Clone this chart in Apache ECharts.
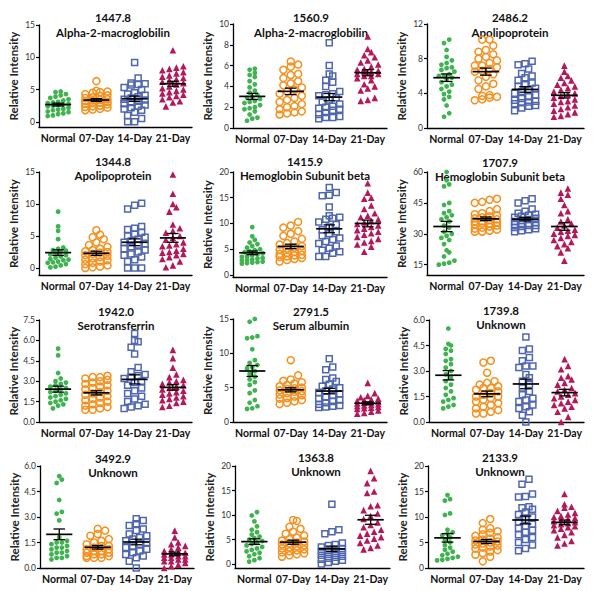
<!DOCTYPE html>
<html><head><meta charset="utf-8">
<script src="https://cdn.jsdelivr.net/npm/echarts@6/dist/echarts.min.js"></script>
<style>html,body{margin:0;padding:0;background:#fff}#c{width:600px;height:591px}</style>
</head><body><div id="c"></div>
<script>
// ---------- DATA ----------
const categories = ['Normal', '07-Day', '14-Day', '21-Day'];
const panelIds = ['1447.8','1560.9','2486.2','1344.8','1415.9','1707.9','1942.0','2791.5','1739.8','3492.9','1363.8','2133.9'];
const panelNames = ['Alpha-2-macroglobilin','Alpha-2-macroglobilin','Apolipoprotein','Apolipoprotein','Hemoglobin Subunit beta','Hemoglobin Subunit beta','Serotransferrin','Serum albumin','Unknown','Unknown','Unknown','Unknown'];

const p1447 = [
  [4.7,4.6,4.3,4.1,3.9,3.7,3.5,3.3,3.1,3.0,2.9,2.8,2.7,2.6,2.5,2.4,2.2,2.0,1.9,1.8,1.6,1.5,1.3,1.2,1.0,0.9],
  [6.3,4.8,4.7,4.6,4.5,4.3,4.1,4.0,3.8,3.7,3.5,3.4,3.3,3.2,3.1,3.0,2.9,2.8,2.7,2.5,2.4,2.3,2.2,2.0,1.9,1.8],
  [9.2,6.8,6.0,5.9,5.8,5.7,5.3,5.0,4.5,4.3,4.1,3.9,3.7,3.5,3.4,3.2,3.0,2.8,2.6,2.4,2.2,2.0,1.8,1.5,1.0,0.5,0.0,0.0],
  [11.1,8.6,8.4,8.2,8.0,7.7,7.5,7.2,7.0,6.8,6.6,6.4,6.2,6.0,5.8,5.5,5.2,5.0,4.8,4.6,4.4,4.2,4.0,3.8,3.5,3.2,3.0,2.4]
];
const p1560 = [
  [5.7,5.6,5.3,5.1,4.9,4.5,4.2,3.9,3.6,3.4,3.2,3.0,2.9,2.8,2.6,2.5,2.4,2.2,2.0,1.9,1.8,1.6,1.3,1.0,0.9,0.7],
  [6.4,6.1,5.9,5.6,5.2,5.1,4.8,4.5,4.3,4.1,3.9,3.7,3.5,3.3,3.1,2.9,2.7,2.5,2.3,2.1,2.0,1.8,1.6,1.5,1.4,1.3],
  [8.2,6.0,5.2,5.0,4.6,4.4,4.0,3.5,3.3,3.2,3.1,2.9,2.7,2.5,2.3,2.1,2.0,1.9,1.8,1.7,1.5,1.3,1.1,1.0,1.0,0.9],
  [8.8,7.6,7.3,7.0,6.8,6.5,6.3,6.1,5.9,5.7,5.6,5.5,5.4,5.4,5.2,5.2,5.0,5.0,4.8,4.6,4.2,4.0,3.8,3.6,2.9,2.7,2.6]
];
const p2486 = [
  [10.2,9.8,9.0,8.2,7.8,7.5,7.3,7.0,6.9,6.7,6.5,6.2,6.0,6.0,5.8,5.6,5.3,5.0,4.8,4.5,4.2,3.9,3.6,3.3,2.6,1.7,1.3],
  [10.2,10.2,9.5,9.0,8.8,8.5,8.2,8.0,7.8,7.5,7.2,7.2,7.0,6.8,6.6,6.5,6.2,5.9,5.5,5.1,4.8,4.5,3.8,3.7,3.6,3.5,3.3,3.2],
  [7.7,7.4,7.3,6.8,6.3,6.0,5.8,5.5,5.2,5.0,4.8,4.6,4.4,4.2,4.0,3.8,3.6,3.4,3.2,3.1,3.0,2.9,2.8,2.6,2.5,2.3,2.0],
  [7.2,6.5,6.0,5.8,5.5,5.2,5.0,4.8,4.6,4.4,4.2,4.0,3.9,3.7,3.5,3.3,3.1,3.0,2.8,2.6,2.4,2.2,2.0,1.8,1.6,1.4,1.3]
];
const p1344 = [
  [8.8,6.5,5.8,4.5,3.2,3.0,2.8,2.7,2.5,2.3,2.1,2.0,1.8,1.6,1.4,1.3,1.2,1.0,0.9,0.8,0.6,0.4,0.2,0.1],
  [5.9,5.2,4.8,4.5,4.0,3.6,3.3,3.0,2.8,2.6,2.5,2.4,2.2,2.0,1.9,1.7,1.5,1.3,1.2,1.0,0.8,0.6,0.4,0.2,0.1,0.0],
  [10.1,9.8,9.2,6.5,6.2,6.0,5.6,5.3,5.0,4.8,4.5,4.2,4.0,3.8,3.6,3.3,3.0,2.8,2.5,2.2,2.0,1.7,1.3,1.0,0.0,0.0,0.0],
  [14.6,11.6,10.0,9.5,8.8,6.8,6.2,5.8,5.5,5.0,4.7,4.4,4.0,3.7,3.5,3.4,3.0,2.7,2.5,2.4,2.2,2.0,1.7,1.4,1.0,0.4,0.1]
];
const p1415 = [
  [9.3,7.5,6.8,6.3,6.0,5.6,5.3,5.0,4.8,4.6,4.4,4.2,4.0,3.8,3.6,3.5,3.3,3.2,3.0,2.9,2.8,2.6,2.5,2.4,2.3,2.2],
  [10.3,9.6,9.2,8.5,8.0,7.6,7.0,6.5,6.2,5.9,5.6,5.3,5.1,4.9,4.7,4.5,4.3,4.1,3.9,3.8,3.6,3.5,3.3,3.1,2.9,2.6],
  [17.0,16.0,15.5,15.4,13.2,11.5,11.2,11.0,10.8,10.3,9.8,9.3,8.8,8.4,8.0,7.6,7.2,6.9,6.5,6.1,5.6,5.2,4.8,4.5,4.2,3.6,3.6],
  [17.8,16.0,15.0,14.8,13.5,12.8,12.0,11.5,11.2,10.8,10.5,10.2,9.9,9.6,9.3,9.0,8.7,8.4,8.1,7.8,7.4,7.0,6.6,6.3,5.9,5.5,4.5]
];
const p1707 = [
  [60,56,54,53,45,44,41,40,39,38,37,36,34,33,31,30,29,28,27,25,22,21,19,17,16,15.5,15],
  [47,46.5,45.5,45,36,35,42,41,40,39.5,39,38.5,38,37.5,37,36.5,36,35.5,35,34.5,34,33.5,33,32.5,32,31.5,31,31],
  [47,46,45,35,34,42,41,40,39.5,39,38.5,38,37.5,37,36.5,36,35.5,35,34.5,34,33.5,33,32.5,32,31.5,31],
  [52,50,49,47,44,41,40,37,36,35,34,33,32,31.5,31,30,29.5,29,28,27,26,25,24,23,21,17]
];
const p1942 = [
  [5.4,4.9,3.6,3.2,3.0,2.9,2.8,2.7,2.6,2.5,2.4,2.3,2.2,2.1,2.0,1.9,1.8,1.7,1.6,1.5,1.4,1.3,1.2,1.0],
  [3.4,3.3,3.3,3.2,3.1,3.0,2.9,2.8,2.7,2.6,2.5,2.4,2.3,2.2,2.1,2.0,1.9,1.8,1.7,1.6,1.5,1.4,1.3,1.2,1.1,1.0,0.9,0.9],
  [6.5,6.0,5.9,5.5,5.0,1.2,4.0,3.7,3.5,3.4,3.3,3.2,3.0,2.9,2.7,2.5,2.3,2.1,1.9,1.7,1.5,1.3,1.1,1.0],
  [5.3,4.7,4.0,3.5,3.3,3.1,3.0,2.9,2.8,2.7,2.6,2.5,2.4,2.3,2.2,2.1,2.0,1.9,1.8,1.7,1.6,1.5,1.4,1.2,1.1]
];
const p2791 = [
  [15.0,14.6,12.5,12.3,12.2,10.6,9.0,8.6,8.3,8.0,7.8,7.4,7.0,6.6,6.2,5.8,5.4,4.6,4.2,3.2,2.8,2.3,2.0,1.9],
  [9.0,6.8,6.2,6.0,5.8,5.6,5.4,5.2,5.0,4.9,4.8,4.6,4.5,4.4,4.2,4.0,3.9,3.7,3.5,3.4,3.2,3.0,2.8,2.6],
  [9.2,8.0,7.6,6.4,6.2,5.9,5.5,5.2,5.0,4.8,4.5,4.3,4.1,3.9,3.6,3.4,3.2,3.0,2.8,2.6,2.4,2.3,2.2,2.1],
  [5.7,4.2,3.8,3.6,3.4,3.3,3.2,3.1,3.0,2.9,2.8,2.7,2.6,2.5,2.4,2.3,2.2,2.1,2.0,1.9,1.7,1.5,1.3,1.2]
];
const p1739 = [
  [5.5,4.6,4.5,4.3,4.2,4.0,3.7,3.6,3.4,3.2,3.0,2.8,2.6,2.4,2.2,2.0,1.8,1.6,1.4,1.3,1.2,1.0,0.9,0.8],
  [3.6,3.5,2.9,2.4,2.3,2.2,2.1,2.0,2.0,1.9,1.8,1.7,1.6,1.5,1.5,1.4,1.3,1.2,1.1,1.0,0.9,0.8,0.7,0.6,0.5,0.5],
  [5.0,4.3,4.2,3.8,3.6,3.3,3.3,3.2,2.8,2.6,2.4,2.2,2.0,1.8,1.6,1.4,1.3,1.2,1.0,0.9,0.8,0.6,0.4,0.0],
  [3.7,3.3,3.1,2.7,2.6,2.5,2.3,2.2,2.0,1.9,1.8,1.7,1.6,1.5,1.4,1.3,1.2,1.1,1.0,0.9,0.8,0.6,0.3,0.0]
];
const p3492 = [
  [5.4,5.2,5.0,4.0,3.3,3.2,2.8,1.8,1.6,1.5,1.5,1.4,1.3,1.2,1.2,1.1,1.0,0.9,0.9,0.8,0.7,0.6,0.6,0.5],
  [2.3,2.2,2.0,1.9,1.7,1.6,1.5,1.4,1.3,1.3,1.2,1.1,1.1,1.0,1.0,0.9,0.9,0.8,0.8,0.7,0.7,0.6,0.6,0.6],
  [2.9,2.8,2.6,2.5,2.3,2.2,2.0,1.9,1.8,1.7,1.6,1.5,1.4,1.3,1.2,1.1,1.0,0.9,0.8,0.7,0.6,0.4,0.0],
  [2.2,1.8,1.5,1.4,1.3,1.2,1.1,1.0,0.9,0.9,0.8,0.8,0.7,0.7,0.6,0.6,0.5,0.5,0.4,0.4,0.3,0.2,0.1,0.0]
];
const p1363 = [
  [10.6,9.9,8.7,7.7,7.0,6.5,6.0,5.6,5.3,5.0,4.7,4.4,4.1,3.8,3.5,3.2,2.9,2.6,2.3,2.0,1.6,1.2,0.8,0.5],
  [9.0,8.8,7.6,7.2,6.6,6.2,5.8,5.4,5.1,4.8,4.6,4.4,4.2,4.0,3.8,3.6,3.4,3.2,3.0,2.8,2.6,2.4,2.2,2.0,1.8,1.5],
  [12.2,7.0,6.6,6.2,4.3,4.0,3.8,3.5,3.2,3.0,2.8,2.6,2.4,2.2,2.0,1.8,1.6,1.4,1.2,1.0,0.8,0.6,0.3,0.0],
  [19.0,17.5,16.5,14.8,14.5,12.0,11.8,11.0,10.3,9.8,9.2,8.5,8.0,7.5,7.0,6.6,6.2,5.8,5.5,5.2,4.8,4.3,3.8,3.3,3.0]
];
const p2133 = [
  [14.3,13.5,13.2,10.7,10.4,7.5,7.0,6.7,6.4,6.0,5.5,5.0,4.5,4.0,3.6,3.2,2.8,2.5,2.2,2.0,1.8,1.6,1.5],
  [9.6,8.8,7.8,7.5,7.2,6.9,6.6,6.3,6.0,5.8,5.6,5.4,5.2,5.0,4.8,4.6,4.4,4.2,4.0,3.8,3.5,3.2,2.9,2.6,2.2,1.3],
  [17.4,16.4,14.5,14.0,13.9,12.0,11.8,11.5,11.0,10.5,10.0,9.5,9.0,8.6,8.2,7.8,7.4,7.0,6.5,6.0,5.6,5.0,4.5,3.8,3.4],
  [14.5,12.5,12.0,11.8,11.2,10.8,10.5,10.2,10.0,9.8,9.6,9.4,9.2,9.0,8.8,8.6,8.4,8.2,8.0,7.7,7.4,7.0,6.5,6.0,5.3,4.8,4.4]
];

// y tick labels per panel
const t1447 = ['0','5','10','15'];
const t1560 = ['0','2','4','6','8','10'];
const t2486 = ['0','4','8','12'];
const t1344 = ['0','5','10','15'];
const t1415 = ['0','5','10','15','20'];
const t1707 = ['15','30','45','60'];
const t1942 = ['0.0','1.5','3.0','4.5','6.0','7.5'];
const t2791 = ['0','5','10','15'];
const t1739 = ['0.0','1.5','3.0','4.5','6.0'];
const t3492 = ['0.0','1.5','3.0','4.5','6.0'];
const t1363 = ['0','5','10','15','20'];
const t2133 = ['0','5','10','15','20'];

// ---------- LAYOUT / STYLE ----------
const panelData = [p1447,p1560,p2486,p1344,p1415,p1707,p1942,p2791,p1739,p3492,p1363,p2133];
const panelTicks = [t1447,t1560,t2486,t1344,t1415,t1707,t1942,t2791,t1739,t3492,t1363,t2133];
const gLeft   = [39,233,427, 39,233,427, 39,233,429, 40,235,428];
const gWidth  = [153,154,157, 153,154,157, 153,154,155, 154,155,156];
const gTop    = [25,24,24, 172,172,172, 320,319,320, 466,466,466];
const gBottom = [127,128,128, 275,277,275, 422,422,422, 568,568,568];
const yMinL   = [-0.8,0,0, -1.1,-0.4,10, 0,0,0, 0,-0.8,0];
const titleX  = [113,311,510, 113,305,500, 116,311,501, 113,316,500];
const titleY  = [[17,32],[17,32],[17,32],[161,175],[161,175],[162,176],[311,325],[311,325],[310,324],[458,472],[457,471],[457,471]];
const colors  = ['#3fb34f','#f5901e','#5067b0','#b3185a'];
const symbols = ['circle','circle','rect','triangle'];
const sizes   = [4.8,7,6,6.6];
const filled  = [true,false,false,true];
const steps   = [5.2,7.4,7,7];
const maxRow  = [5,4,4,4];
const FONT = 'Lato, "Open Sans", sans-serif';

function swarm(vals, ppu, pxPerCat, step, maxN){
  const idx = vals.map((v,i)=>i).sort((a,b)=>vals[a]-vals[b]);
  const rows = []; let cur = [];
  const rowH = step*0.85;
  idx.forEach(i=>{
    if(cur.length && ((vals[i]-vals[cur[0]])*ppu >= rowH || cur.length>=maxN)){ rows.push(cur); cur=[]; }
    cur.push(i);
  });
  if(cur.length) rows.push(cur);
  const off = new Array(vals.length).fill(0);
  rows.forEach(r=>{
    const n=r.length;
    r.forEach((i,k)=>{ off[i] = (k-(n-1)/2)*step/pxPerCat; });
  });
  return off;
}
function stats(v){
  const n=v.length, m=v.reduce((a,b)=>a+b,0)/n;
  const sd=Math.sqrt(v.reduce((a,b)=>a+(b-m)*(b-m),0)/(n-1));
  return [m, sd/Math.sqrt(n)];
}

const grids=[], xAxes=[], yAxes=[], series=[], graphics=[];
panelData.forEach((pd,p)=>{
  const tickVals = panelTicks[p].map(Number);
  const yMax = tickVals[tickVals.length-1];
  const yMin = yMinL[p];
  const h = gBottom[p]-gTop[p];
  grids.push({left:gLeft[p], top:gTop[p], width:gWidth[p], height:h, outerBoundsMode:'none', containLabel:false});
  xAxes.push({gridIndex:p, type:'value', min:-0.5, max:3.5,
    axisLine:{show:true, onZero:false, lineStyle:{color:'#000', width:1.3}},
    axisTick:{show:false}, splitLine:{show:false},
    axisLabel:{customValues:[0,1,2,3], formatter:v=>categories[Math.round(v)], margin:5,
      fontFamily:FONT, fontWeight:'bold', fontSize:10.5, color:'#111'}});
  yAxes.push({gridIndex:p, type:'value', min:yMin, max:yMax,
    axisLine:{show:true, onZero:false, lineStyle:{color:'#000', width:1.3}},
    axisTick:{show:true, length:3, customValues:tickVals, lineStyle:{color:'#000', width:1.2}},
    splitLine:{show:false},
    axisLabel:{customValues:tickVals, margin:4, fontFamily:FONT, fontSize:8.5, color:'#333',
      formatter:v=>{ const k=tickVals.findIndex(t=>Math.abs(t-v)<1e-6); return k>=0?panelTicks[p][k]:''; }},
    name:'Relative Intensity', nameLocation:'middle', nameGap:20,
    nameTextStyle:{fontFamily:FONT, fontWeight:'bold', fontSize:11.5, color:'#222'}});
  const ppu = h/(yMax-yMin), pxPerCat = gWidth[p]/4;
  const msData=[];
  pd.forEach((vals,g)=>{
    const off = swarm(vals, ppu, pxPerCat, steps[g], maxRow[g]);
    series.push({type:'scatter', xAxisIndex:p, yAxisIndex:p, silent:true, z:2,
      symbol:symbols[g], symbolSize:sizes[g],
      itemStyle: filled[g] ? {color:colors[g], borderWidth:0, opacity:1}
                           : {color:'rgba(255,255,255,0)', borderColor:colors[g], borderWidth:1.5, opacity:1},
      data: vals.map((v,i)=>[g+off[i], v])});
    const st = stats(vals);
    msData.push([g, st[0], st[1]]);
  });
  series.push({type:'custom', xAxisIndex:p, yAxisIndex:p, silent:true, z:5, clip:false,
    encode:{x:0, y:1},
    data: msData,
    renderItem:(params, api)=>{
      const x=api.value(0), m=api.value(1), s=api.value(2);
      const L=api.coord([x-0.34,m]), R=api.coord([x+0.34,m]);
      const T=api.coord([x,m+s]), B=api.coord([x,m-s]);
      const cw=(R[0]-L[0])*0.22;
      const st={stroke:'#000', lineWidth:1.7};
      return {type:'group', children:[
        {type:'line', shape:{x1:L[0],y1:L[1],x2:R[0],y2:R[1]}, style:st},
        {type:'line', shape:{x1:T[0],y1:T[1],x2:B[0],y2:B[1]}, style:{stroke:'#000', lineWidth:1.3}},
        {type:'line', shape:{x1:T[0]-cw,y1:T[1],x2:T[0]+cw,y2:T[1]}, style:{stroke:'#000', lineWidth:1.3}},
        {type:'line', shape:{x1:B[0]-cw,y1:B[1],x2:B[0]+cw,y2:B[1]}, style:{stroke:'#000', lineWidth:1.3}}
      ]};
    }});
  graphics.push({type:'text', x:titleX[p], y:titleY[p][0], silent:true,
    style:{text:panelIds[p], align:'center', verticalAlign:'middle', fontFamily:FONT, fontWeight:'bold', fontSize:11.5, fill:'#111'}});
  graphics.push({type:'text', x:titleX[p], y:titleY[p][1], silent:true,
    style:{text:panelNames[p], align:'center', verticalAlign:'middle', fontFamily:FONT, fontWeight:'bold', fontSize:11.5, fill:'#111'}});
});

const chart = echarts.init(document.getElementById('c'), null, {renderer:'svg', width:600, height:591});
chart.setOption({animation:false, backgroundColor:'#fff', grid:grids, xAxis:xAxes, yAxis:yAxes, series:series, graphic:graphics});
</script>
</body></html>
